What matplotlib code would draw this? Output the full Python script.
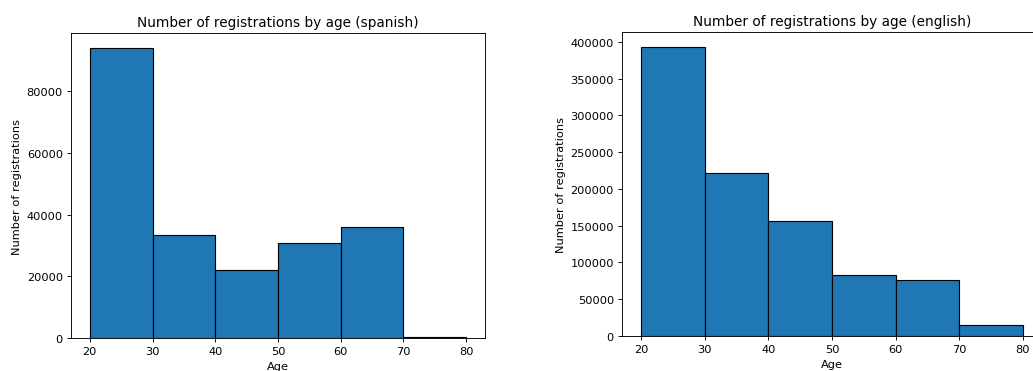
import matplotlib
matplotlib.use("Agg")
import matplotlib.pyplot as plt

# registrations per 10-year age bin
age_bins = [20, 30, 40, 50, 60, 70, 80]
spanish_counts = [94200, 33400, 22150, 30700, 36100, 300]
english_counts = [393600, 221500, 157000, 83100, 76300, 15000]

fig = plt.figure(figsize=(1033 / 82, 372 / 82), dpi=82)

ax1 = fig.add_axes([0.0687, 0.0887, 0.4008, 0.8199])
ax1.hist(age_bins[:-1], bins=age_bins, weights=spanish_counts, edgecolor="black")
ax1.set_title("Number of registrations by age (spanish)")
ax1.set_xlabel("Age")
ax1.set_ylabel("Number of registrations")

ax2 = fig.add_axes([0.6021, 0.0941, 0.4066, 0.8170])
ax2.hist(age_bins[:-1], bins=age_bins, weights=english_counts, edgecolor="black")
ax2.set_title("Number of registrations by age (english)")
ax2.set_xlabel("Age")
ax2.set_ylabel("Number of registrations")

fig.savefig("out.png", dpi=82)
